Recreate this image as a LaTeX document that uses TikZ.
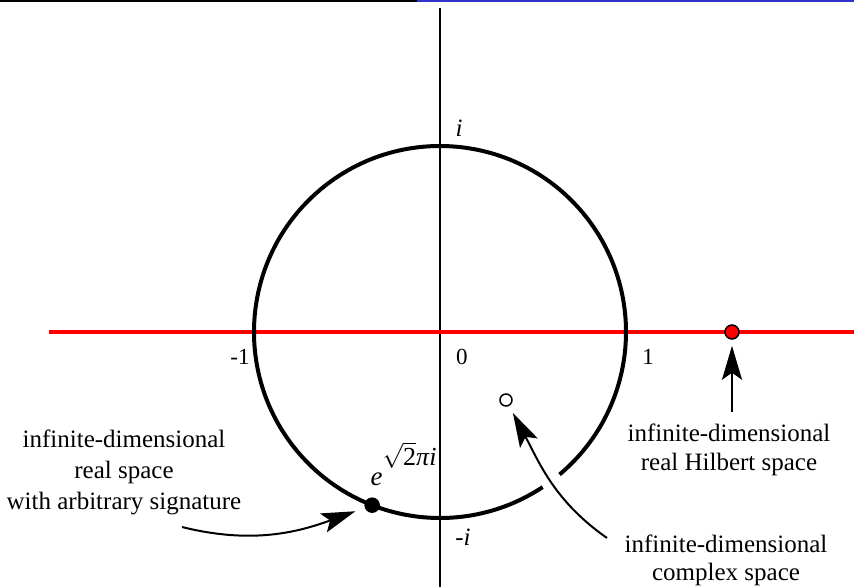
\documentclass[tikz,border=0pt]{standalone}
\usepackage{fontspec}
\setmainfont{Liberation Serif}
\usetikzlibrary{positioning, arrows.meta, calc}
\definecolor{EdgeBlue}{HTML}{3333CC}

\begin{document}
\begin{tikzpicture}[x=1pt, y=1pt,
  every node/.style={font=\fontsize{23}{26}\selectfont},
  axis/.style={line width=2pt, black},
  realaxis/.style={line width=4pt, red},
  unit/.style={line width=4pt},
  arr/.style={-{Stealth[length=34pt, width=20pt, inset=7pt]}, line width=2pt},
  dot/.style={circle, draw, line width=1.5pt, minimum size=#1, inner sep=0pt},
  dot/.default=14pt,
  note/.style={align=center, inner sep=2pt, font=\fontsize{25}{29}\selectfont}
]
  \useasboundingbox (-440,-255) rectangle (414,332);

  % Top rule
  \draw[line width=2pt] (-440,331) -- (-23,331);
  \draw[line width=2pt, EdgeBlue] (-23,331) -- (414,331);

  % Axes
  \draw[axis] (0,324) -- (0,-255);
  \draw[realaxis] (-391,0) -- (414,0);

  % Unit circle (broken where the arrow passes)
  \draw[unit] (-50:186) arc[start angle=-50, end angle=303.5, radius=186pt];

  % Labels on the axes
  \node[font=\fontsize{25}{28}\selectfont] (im) at (19,204) {\textit{i}};
  \node[font=\fontsize{25}{28}\selectfont] (mim) at (23,-205) {-\textit{i}};
  \node (mone) at (-200,-25) {-1};
  \node (zero) at (22,-25) {0};
  \node (one) at (208,-25) {1};

  % Points
  \node[dot, fill=red] (hilb) at (292,0) {};
  \node[dot, fill=black] (realpt) at (-111.4:186) {};
  \node[dot=12pt, fill=white] (cplx) at (66,-68) {};
  \node[anchor=base west, font=\fontsize{27}{30}\selectfont] (eul) at (-73,-153)
    {\textit{e}\raisebox{20pt}{\fontsize{26}{30}\selectfont$\sqrt{\mbox{2}}$\textit{πi}}};

  % Descriptions
  \node[note] (hilbtext) at (289,-118) {infinite-dimensional\\real Hilbert space};
  \node[note, font=\fontsize{25}{31}\selectfont] (realtext) at (-316,-140)
    {infinite-dimensional\\real space\\with arbitrary signature};
  \node[note, font=\fontsize{25}{28}\selectfont] (cplxtext) at (286,-228)
    {infinite-dimensional\\complex space};

  % Arrows
  \coordinate (realfrom) at (-258,-195);
  \coordinate (cplxfrom) at (167,-206);
  \draw[arr, shorten <=10pt, shorten >=6pt] (hilbtext.north -| hilb) -- (hilb.south);
  \draw[arr, shorten >=10pt] (realfrom) to[out=-14, in=200] (realpt);
  \draw[arr, shorten >=8pt] (cplxfrom) to[out=145, in=-62] (cplx);
\end{tikzpicture}
\end{document}
